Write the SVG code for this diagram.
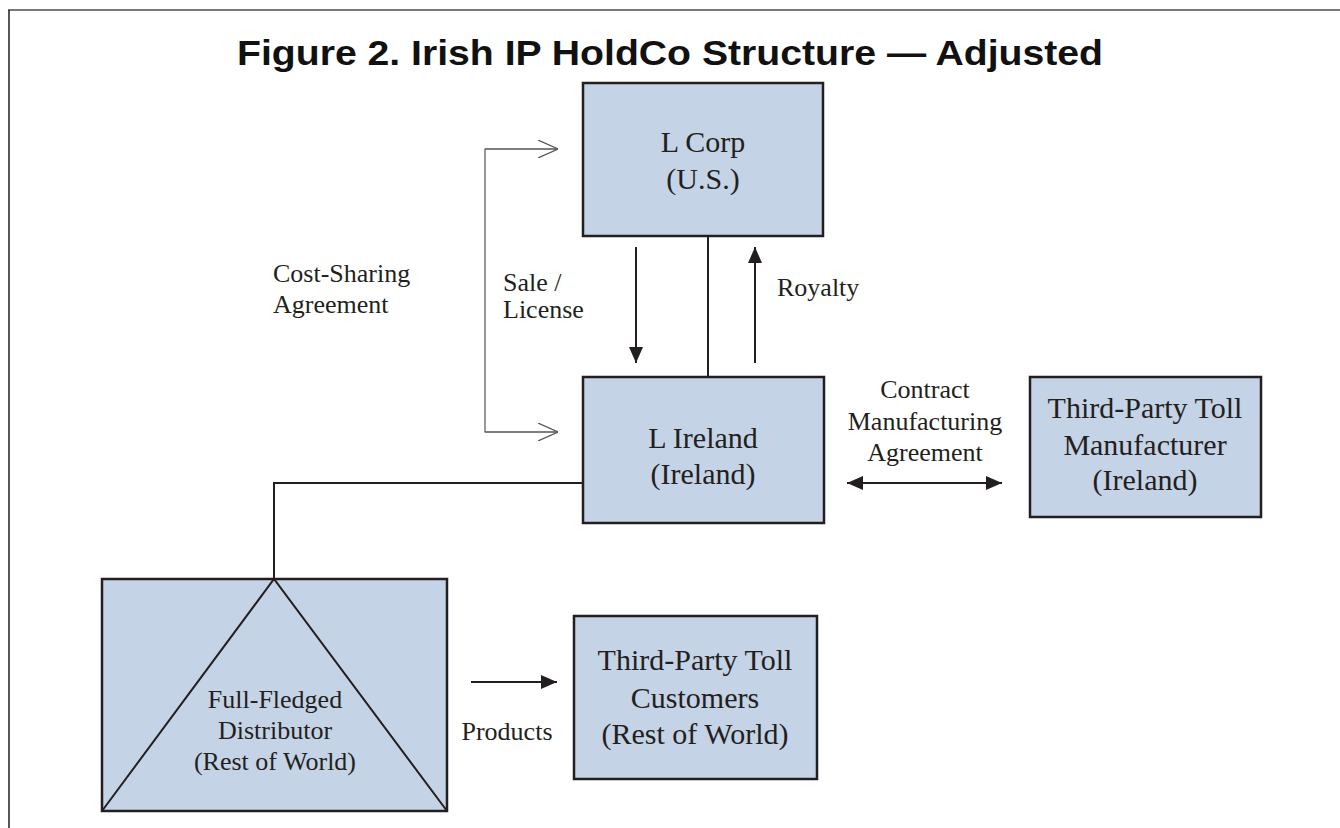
<svg xmlns="http://www.w3.org/2000/svg" width="1340" height="828" viewBox="0 0 1340 828">
  <style>
    .box { fill: #c5d3e6; stroke: #231f20; stroke-width: 2.5; }
    .ln { fill: none; stroke: #231f20; stroke-width: 2; }
    .thin { fill: none; stroke: #555; stroke-width: 1.2; }
    .bt { font-family: "Liberation Serif", "Times New Roman", serif; font-size: 30px; fill: #231f20; text-anchor: middle; }
    .lb { font-family: "Liberation Serif", "Times New Roman", serif; font-size: 26px; fill: #231f20; }
    .title { font-family: "Liberation Sans Narrow", "Arial Narrow", "Liberation Sans", Arial, sans-serif; font-size: 35px; font-weight: bold; fill: #111; text-anchor: middle; }
  </style>
  <defs>
    <marker id="ah" viewBox="0 0 16 14" refX="16" refY="7" markerWidth="16" markerHeight="14" markerUnits="userSpaceOnUse" orient="auto-start-reverse">
      <path d="M0,0 L16,7 L0,14 Z" fill="#231f20"/>
    </marker>
    <marker id="oh" viewBox="0 0 20 18" refX="20" refY="9" markerWidth="20" markerHeight="18" markerUnits="userSpaceOnUse" orient="auto">
      <path d="M0,0 L20,9 L0,18" fill="none" stroke="#555" stroke-width="1.2"/>
    </marker>
  </defs>

  <g id="frame">
    <line x1="8" y1="10" x2="1340" y2="10" stroke="#777" stroke-width="2"/>
    <line x1="9" y1="10" x2="9" y2="828" stroke="#231f20" stroke-width="1.5"/>
  </g>

  <text class="title" x="670" y="65" textLength="866" lengthAdjust="spacingAndGlyphs">Figure 2. Irish IP HoldCo Structure — Adjusted</text>

  <g id="connectors">
    <line class="ln" x1="708" y1="236" x2="708" y2="377"/>
    <line class="ln" x1="636" y1="247" x2="636" y2="363" marker-end="url(#ah)"/>
    <line class="ln" x1="755" y1="363" x2="755" y2="247" marker-end="url(#ah)"/>
    <polyline class="thin" points="558,149 485,149 485,432 558,432"/>
    <line class="thin" x1="485" y1="149" x2="558" y2="149" marker-end="url(#oh)"/>
    <line class="thin" x1="485" y1="432" x2="558" y2="432" marker-end="url(#oh)"/>
    <polyline class="ln" points="583,483 274,483 274,579"/>
    <line class="ln" x1="847" y1="483" x2="1002" y2="483" marker-start="url(#ah)" marker-end="url(#ah)"/>
    <line class="ln" x1="471" y1="682" x2="557" y2="682" marker-end="url(#ah)"/>
  </g>

  <g id="labels">
    <text class="lb" x="273" y="282">Cost-Sharing</text>
    <text class="lb" x="273" y="313">Agreement</text>
    <text class="lb" x="503" y="291">Sale /</text>
    <text class="lb" x="503" y="318">License</text>
    <text class="lb" x="777" y="296">Royalty</text>
    <text class="lb" x="925" y="398" text-anchor="middle">Contract</text>
    <text class="lb" x="925" y="430" text-anchor="middle">Manufacturing</text>
    <text class="lb" x="925" y="461" text-anchor="middle">Agreement</text>
    <text class="lb" x="507" y="740" text-anchor="middle">Products</text>
  </g>

  <g id="lcorp">
    <rect class="box" x="583" y="83" width="240" height="153"/>
    <text class="bt" x="703" y="152">L Corp</text>
    <text class="bt" x="703" y="189">(U.S.)</text>
  </g>

  <g id="lireland">
    <rect class="box" x="583" y="377" width="241" height="146"/>
    <text class="bt" x="703" y="448">L Ireland</text>
    <text class="bt" x="703" y="484">(Ireland)</text>
  </g>

  <g id="manufacturer">
    <rect class="box" x="1030" y="377" width="231" height="140"/>
    <text class="bt" x="1145" y="418">Third-Party Toll</text>
    <text class="bt" x="1145" y="455">Manufacturer</text>
    <text class="bt" x="1145" y="490">(Ireland)</text>
  </g>

  <g id="distributor">
    <rect class="box" x="102" y="579" width="345" height="232"/>
    <polyline class="ln" points="102,811 274,579 447,811"/>
    <text class="lb" x="275" y="708" text-anchor="middle">Full-Fledged</text>
    <text class="lb" x="275" y="739" text-anchor="middle">Distributor</text>
    <text class="lb" x="275" y="770" text-anchor="middle">(Rest of World)</text>
  </g>

  <g id="customers">
    <rect class="box" x="574" y="616" width="243" height="163"/>
    <text class="bt" x="695" y="670">Third-Party Toll</text>
    <text class="bt" x="695" y="708">Customers</text>
    <text class="bt" x="695" y="744">(Rest of World)</text>
  </g>
</svg>
